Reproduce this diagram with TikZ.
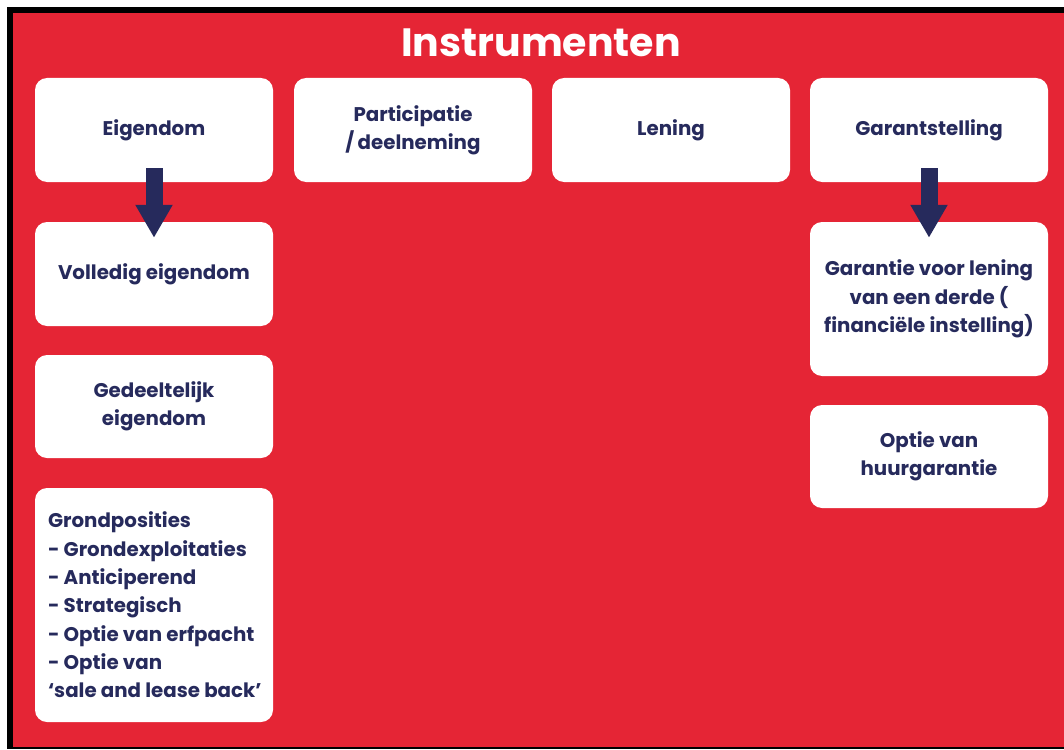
\documentclass[tikz,border=0pt]{standalone}
\usepackage{fontspec}
\setmainfont{Poppins}
\usetikzlibrary{arrows.meta}
\definecolor{instred}{HTML}{E52535}
\definecolor{instnavy}{HTML}{262A5C}
\tikzset{
  box/.style={fill=white, rounded corners=12pt, minimum width=238pt, minimum height=104pt,
    inner sep=0pt, text=instnavy, font=\fontsize{19.8}{28.3}\selectfont\bfseries, align=center},
  down/.style={-{Triangle[width=35pt,length=33pt]}, line width=17pt, draw=instnavy,
    shorten <=-14pt, shorten >=-16pt}
}
\begin{document}
\begin{tikzpicture}[x=1pt,y=-1pt]
  \useasboundingbox (0,0) rectangle (1064,749);
  \fill[white] (0,0) rectangle (1064,749);
  \fill[black] (7,7) rectangle (1064,749);
  \fill[instred] (13,13) rectangle (1064,747);
  \node[text=white, font=\fontsize{39.5}{48}\selectfont\bfseries] (title) at (541,43) {Instrumenten};
  % bovenste rij
  \node[box] (eig) at (154,130) {Eigendom};
  \node[box] (part) at (413,130) {Participatie\\/\,deelneming};
  \node[box] (len) at (671,130) {Lening};
  \node[box] (gar) at (929,130) {Garantstelling};
  % eigendom
  \node[box] (vol) at (154,274) {Volledig eigendom};
  \node[box, minimum height=103pt] (ged) at (154,406.5) {Gedeeltelijk\\eigendom};
  \node[box, minimum height=234pt] (grond) at (154,605) {};
  \node[box, fill=none, minimum width=0pt, minimum height=0pt, align=left, anchor=west]
    (grondtekst) at ([xshift=13pt]grond.west)
    {Grondposities\\- Grondexploitaties\\- Anticiperend\\- Strategisch\\- Optie van erfpacht\\- Optie van\\‘sale and lease back’};
  % garantstelling
  \node[box, minimum height=154pt] (garl) at (929,299) {Garantie voor lening\\van een derde (\\financiële instelling)};
  \node[box, minimum height=103pt] (huur) at (929,456.5) {Optie van\\huurgarantie};
  \draw[down] (eig) -- (vol);
  \draw[down] (gar) -- (garl);
\end{tikzpicture}
\end{document}
